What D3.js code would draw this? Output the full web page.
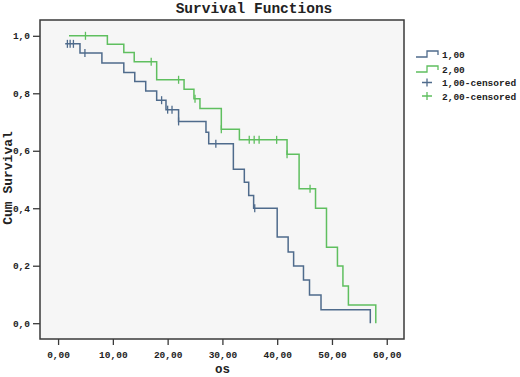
<!DOCTYPE html>
<html>
<head>
<meta charset="utf-8">
<script src="https://cdn.jsdelivr.net/npm/d3@7"></script>
<style>
  body { margin: 0; background: #fff; }
  text { font-family: "Liberation Mono", "DejaVu Sans Mono", monospace; }
</style>
</head>
<body>
<script>
// step points: [time, cumulative survival after the event]
var group1Steps = [[1.3, 0.972], [4, 0.940], [8, 0.905], [12, 0.872], [14, 0.841], [16, 0.808],
  [18, 0.776], [19.7, 0.743], [22, 0.702], [27, 0.664], [27.5, 0.624], [32, 0.536], [34, 0.490],
  [34.8, 0.444], [35.7, 0.400], [40, 0.300], [42, 0.248], [43, 0.199], [44.8, 0.150],
  [45.9, 0.098], [48, 0.047], [57, 0]];
var group2Steps = [[2.0, 1.0], [9, 0.971], [12, 0.942], [13.9, 0.910], [18, 0.847], [23, 0.814],
  [24.8, 0.781], [25.9, 0.747], [29.8, 0.675], [33.1, 0.638], [41.8, 0.588], [44, 0.468],
  [47, 0.400], [49, 0.264], [51, 0.199], [52, 0.129], [53, 0.063], [58, 0]];
// censored times
var group1Censored = [1.7, 2.2, 2.8, 4.9, 18.9, 20.0, 20.8, 22.0, 28.8, 35.9];
var group2Censored = [5.0, 17.0, 22.0, 25.0, 29.8, 34.9, 35.8, 36.7, 39.9, 41.8, 46.0];

var xTicks = [0, 10, 20, 30, 40, 50, 60];
var yTicks = [0, 0.2, 0.4, 0.6, 0.8, 1.0];
var legendLabels = ["1,00", "2,00", "1,00-censored", "2,00-censored"];
var colors = ["#4f6b8c", "#5fbf5f"];

var width = 520, height = 377;
var margin = {top: 20, right: 116, bottom: 38, left: 40};

var svg = d3.select("body").append("svg")
  .attr("width", width)
  .attr("height", height);

var xScale = d3.scaleLinear().domain([-3.3, 63.15]).range([margin.left, width - margin.right]);
var yScale = d3.scaleLinear().domain([-0.055, 1.055]).range([height - margin.bottom, margin.top]);

// plot background
svg.append("rect")
  .attr("x", margin.left).attr("y", margin.top)
  .attr("width", width - margin.left - margin.right)
  .attr("height", height - margin.top - margin.bottom)
  .attr("fill", "#f6f6f6")
  .attr("stroke", "#3a3a3a")
  .attr("stroke-width", 1.5);

var comma = function(f) { return function(d) { return d3.format(f)(d).replace(".", ","); }; };

var yAxis = d3.axisLeft(yScale).tickValues(yTicks).tickFormat(comma(".1f")).tickSize(7).tickPadding(3);
var xAxis = d3.axisBottom(xScale).tickValues(xTicks).tickFormat(comma(".2f")).tickSize(6).tickPadding(6);

var gy = svg.append("g")
  .attr("transform", "translate(" + margin.left + ",0)")
  .call(yAxis);
var gx = svg.append("g")
  .attr("transform", "translate(0," + (height - margin.bottom) + ")")
  .call(xAxis);

[gx, gy].forEach(function(g) {
  g.select(".domain").remove();
  g.selectAll(".tick line").attr("stroke", "#3a3a3a").attr("stroke-width", 1.3);
  g.selectAll(".tick text")
    .attr("fill", "#222")
    .style("font-size", "9.5px")
    .style("font-weight", "bold");
});

// step path
function stepPath(steps) {
  var pts = [];
  pts.push([steps[0][0], steps[0][1]]);
  for (var i = 1; i < steps.length; i++) {
    pts.push([steps[i][0], steps[i - 1][1]]);
    pts.push([steps[i][0], steps[i][1]]);
  }
  return d3.line().x(function(d) { return xScale(d[0]); }).y(function(d) { return yScale(d[1]); })(pts);
}

function levelAt(steps, t) {
  var v = steps[0][1];
  steps.forEach(function(s) { if (s[0] <= t) v = s[1]; });
  return v;
}

[[group1Steps, group1Censored], [group2Steps, group2Censored]].forEach(function(g, i) {
  var steps = g[0], cens = g[1];
  svg.append("path")
    .attr("d", stepPath(steps))
    .attr("fill", "none")
    .attr("stroke", colors[i])
    .attr("stroke-width", 1.5);

  svg.append("g").selectAll("line")
    .data(cens)
    .enter().append("line")
    .attr("x1", function(d) { return xScale(d); })
    .attr("x2", function(d) { return xScale(d); })
    .attr("y1", function(d) { return yScale(levelAt(steps, d)) - 4; })
    .attr("y2", function(d) { return yScale(levelAt(steps, d)) + 4; })
    .attr("stroke", colors[i])
    .attr("stroke-width", 1.3);
});

// title
svg.append("text")
  .attr("x", 254).attr("y", 13)
  .attr("text-anchor", "middle")
  .style("font-size", "14.5px")
  .style("font-weight", "bold")
  .attr("fill", "#222")
  .text("Survival Functions");

// axis titles
svg.append("text")
  .attr("x", xScale(30)).attr("y", 373)
  .attr("text-anchor", "middle")
  .style("font-size", "12.5px")
  .style("font-weight", "bold")
  .attr("fill", "#222")
  .text("os");

svg.append("text")
  .attr("transform", "translate(12," + 178 + ") rotate(-90)")
  .attr("text-anchor", "middle")
  .style("font-size", "13px")
  .style("font-weight", "bold")
  .attr("fill", "#222")
  .text("Cum Survival");

// legend
var legend = svg.append("g");
var rowY = [54, 69, 82.5, 96];
legendLabels.forEach(function(lab, i) {
  var y = rowY[i];
  var c = colors[i % 2];
  if (i < 2) {
    legend.append("path")
      .attr("d", "M416," + (y + 3) + "H427V" + (y - 3) + "H438V" + (y + 1))
      .attr("fill", "none")
      .attr("stroke", c)
      .attr("stroke-width", 1.3);
  } else {
    legend.append("path")
      .attr("d", "M422," + y + "H432M427," + (y - 4) + "V" + (y + 4))
      .attr("stroke", c)
      .attr("stroke-width", 1.3);
  }
  legend.append("text")
    .attr("x", 442).attr("y", y + 3.5)
    .style("font-size", "9.5px")
    .style("font-weight", "bold")
    .attr("fill", "#222")
    .text(lab);
});
</script>
</body>
</html>
